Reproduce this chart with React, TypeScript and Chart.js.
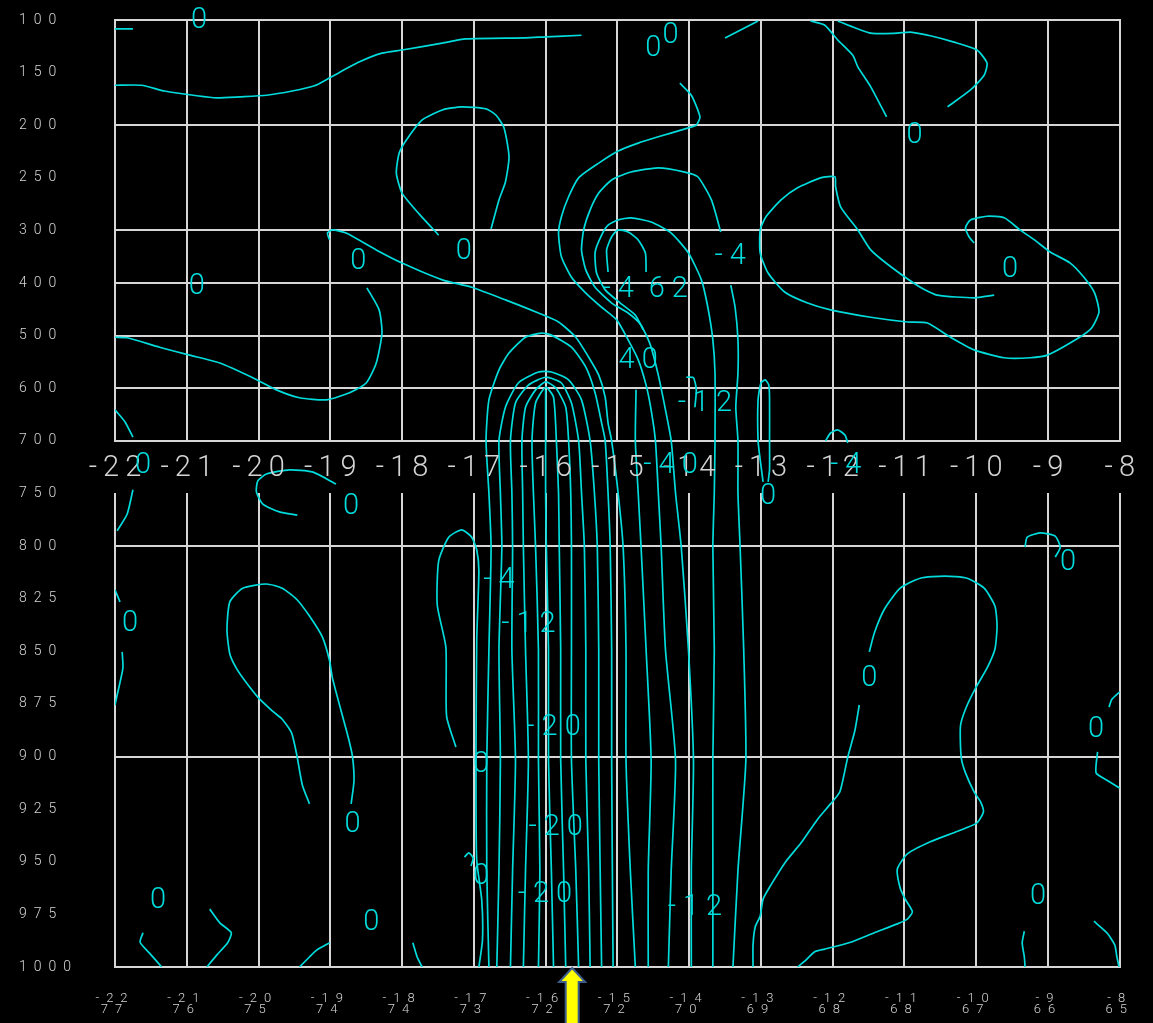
import React, { useEffect, useRef } from "react";
import { Chart, registerables } from "chart.js";

Chart.register(...registerables);

type Pt = [number, number];

// ---------- axes ----------
const LEVEL_LABELS = ["100", "150", "200", "250", "300", "400", "500", "600", "700", "750", "800", "825", "850", "875", "900", "925", "950", "975", "1000"];
const LON_TICKS = [-22, -21, -20, -19, -18, -17, -16, -15, -14, -13, -12, -11, -10, -9, -8];
const LAT_TICKS = [77, 76, 75, 74, 74, 73, 72, 72, 70, 69, 68, 68, 67, 66, 65];
const UPPER_GRID_LEVELS = [0, 2, 4, 5, 6, 7, 8];
const LOWER_GRID_LEVELS = [10, 14, 18];
const UPPER_PANEL = [0, 8];
const LOWER_PANEL = [9, 18];
const MID_LABEL_LEVEL = 8.47;
const ARROW_LON = -15.63;

// ---------- central vertical contour legs (below 700 hPa) ----------
const LEG_LEVELS = [8.99, 10.02, 11.97, 14.07, 16.16, 18.0];
const LEG_A = [-16.79, -16.76, -16.79, -16.82, -16.82, -16.79];
const LEG_B = [-16.63, -16.61, -16.65, -16.63, -16.65, -16.68];
const LEG_C = [-16.47, -16.46, -16.47, -16.42, -16.46, -16.49];
const LEG_D = [-16.32, -16.31, -16.28, -16.24, -16.28, -16.31];
const LEG_E = [-16.17, -16.14, -16.10, -16.10, -16.08, -16.10];
const LEG_MID = [-16.0, -15.99, -15.96, -15.96, -15.92, -15.89];
const LEG_F = [-15.82, -15.81, -15.79, -15.79, -15.75, -15.72];
const LEG_G = [-15.65, -15.64, -15.64, -15.64, -15.58, -15.54];
const LEG_H = [-15.50, -15.46, -15.44, -15.44, -15.40, -15.38];
const LEG_I = [-15.32, -15.28, -15.26, -15.26, -15.24, -15.22];
const LEG_J = [-15.13, -15.10, -15.08, -15.08, -15.07, -15.06];
const LEG_K = [-14.99, -14.92, -14.88, -14.88, -14.82, -14.75];
const LEG_L = [-14.71, -14.67, -14.60, -14.53, -14.57, -14.57];
const LEG_M = [-14.43, -14.39, -14.33, -14.19, -14.25, -14.29];
const LEG_N = [-14.19, -14.11, -14.01, -13.94, -13.97, -13.97];
const LEG_O = [-13.65, -13.67, -13.65, -13.67, -13.67, -13.67];
const LEG_P = [-13.32, -13.29, -13.24, -13.21, -13.32, -13.39];

// ---------- arch tops (upper panel) ----------
const ARCH_1: Pt[] = [[-16.83, 8.0], [-16.79, 7.22], [-16.65, 6.65], [-16.51, 6.33], [-16.28, 6.03], [-16.06, 5.95], [-15.92, 5.99], [-15.64, 6.22], [-15.44, 6.60], [-15.31, 7.09], [-15.22, 7.66], [-15.17, 8.0]];
const ARCH_2: Pt[] = [[-16.65, 8.0], [-16.56, 7.36], [-16.38, 6.90], [-16.10, 6.69], [-15.92, 6.69], [-15.68, 6.84], [-15.50, 7.22], [-15.38, 8.0]];
const ARCH_3: Pt[] = [[-16.49, 8.0], [-16.42, 7.28], [-16.24, 6.94], [-16.0, 6.79], [-15.78, 6.90], [-15.64, 7.28], [-15.54, 8.0]];
const ARCH_4: Pt[] = [[-16.33, 8.0], [-16.28, 7.36], [-16.14, 7.03], [-16.0, 6.88], [-15.86, 6.99], [-15.72, 7.36], [-15.68, 8.0]];
const ARCH_5: Pt[] = [[-16.19, 8.0], [-16.14, 7.28], [-16.0, 6.98], [-15.89, 7.17], [-15.85, 8.0]];
const MID_TOP: Pt[] = [[-16.0, 7.03], [-16.0, 8.0]];
const K_TOP: Pt[] = [[-19.01, 4.18], [-19.04, 4.05], [-18.97, 3.99], [-18.78, 4.05], [-18.36, 4.37], [-18.0, 4.62], [-17.44, 4.94], [-17.03, 5.08], [-16.56, 5.32], [-16.10, 5.57], [-15.82, 5.74], [-15.58, 6.03], [-15.40, 6.41], [-15.26, 6.75], [-15.17, 7.17], [-15.13, 7.66], [-15.08, 8.0]];
const L_TOP: Pt[] = [[-14.74, 7.03], [-14.75, 8.0]];
const M_TOP: Pt[] = [[-14.13, 1.20], [-13.97, 1.43], [-13.85, 1.84], [-13.90, 2.0], [-14.01, 2.05], [-14.43, 2.22], [-14.71, 2.34], [-14.99, 2.49], [-15.26, 2.72], [-15.54, 3.0], [-15.68, 3.36], [-15.78, 3.74], [-15.82, 4.05], [-15.78, 4.50], [-15.64, 4.89], [-15.44, 5.19], [-15.22, 5.46], [-15.01, 5.70], [-14.85, 6.08], [-14.71, 6.46], [-14.60, 6.94], [-14.53, 7.41], [-14.47, 8.0]];
const N_TOP: Pt[] = [[-13.56, 4.03], [-13.69, 3.42], [-13.88, 2.98], [-14.06, 2.89], [-14.43, 2.81], [-14.81, 2.89], [-15.08, 3.04], [-15.26, 3.29], [-15.38, 3.61], [-15.47, 3.99], [-15.50, 4.37], [-15.44, 4.75], [-15.31, 5.08], [-15.08, 5.38], [-14.85, 5.57], [-14.67, 5.80], [-14.54, 6.18], [-14.43, 6.75], [-14.33, 7.41], [-14.25, 8.0]];
const O_TOP: Pt[] = [[-14.64, 5.89], [-14.75, 5.61], [-14.96, 5.38], [-15.17, 5.13], [-15.29, 4.81], [-15.31, 4.41], [-15.22, 4.09], [-15.13, 3.90], [-14.99, 3.80], [-14.81, 3.76], [-14.53, 3.84], [-14.25, 4.05], [-14.01, 4.43], [-13.83, 4.94], [-13.74, 5.46], [-13.67, 6.08], [-13.64, 6.71], [-13.64, 8.0]];
const P_TOP: Pt[] = [[-13.42, 5.04], [-13.36, 5.46], [-13.32, 6.08], [-13.32, 6.71], [-13.35, 7.36], [-13.32, 8.0]];

// ---------- other contours ----------
const C_TOP_STUB: Pt[] = [[-22, 0.17], [-21.75, 0.17]];
const C_TOP_LONG: Pt[] = [[-22, 1.24], [-21.63, 1.24], [-21.31, 1.35], [-20.86, 1.44], [-20.58, 1.48], [-20.26, 1.46], [-19.89, 1.43], [-19.53, 1.35], [-19.22, 1.25], [-19.01, 1.10], [-18.60, 0.80], [-18.28, 0.63], [-18.0, 0.57], [-17.44, 0.44], [-17.11, 0.36], [-16.28, 0.34], [-16.0, 0.32], [-15.5, 0.29]];
const C_LOOP_250: Pt[] = [[-17.49, 4.09], [-17.76, 3.69], [-18.0, 3.29], [-18.08, 2.91], [-18.04, 2.53], [-17.94, 2.28], [-17.72, 1.90], [-17.44, 1.71], [-17.17, 1.65], [-16.83, 1.69], [-16.69, 1.81], [-16.58, 2.05], [-16.51, 2.60], [-16.56, 3.08], [-16.65, 3.42], [-16.76, 3.97]];
const C_LEFT_500: Pt[] = [[-22, 6.03], [-21.83, 6.04], [-21.38, 6.22], [-20.96, 6.37], [-20.54, 6.52], [-20.08, 6.80], [-19.75, 7.03], [-19.43, 7.18], [-19.06, 7.22], [-18.74, 7.09], [-18.5, 6.90], [-18.36, 6.52], [-18.28, 5.95], [-18.32, 5.51], [-18.49, 5.09]];
const C_LEFT_650: Pt[] = [[-22, 7.41], [-21.86, 7.64], [-21.75, 7.93]];
const C_TOP_MID: Pt[] = [[-13.5, 0.34], [-13.04, 0.02]];
const C_TOP_DIAG: Pt[] = [[-12.31, 0.02], [-12.11, 0.10], [-11.93, 0.38], [-11.72, 0.67], [-11.65, 0.89], [-11.47, 1.27], [-11.25, 1.84]];
const C_TOP_RIGHT: Pt[] = [[-11.93, 0.02], [-11.47, 0.25], [-11.10, 0.25], [-10.92, 0.23], [-10.64, 0.30], [-10.31, 0.42], [-9.99, 0.57], [-9.85, 0.82], [-9.89, 1.05], [-10.08, 1.33], [-10.40, 1.65]];
const C_RIGHT_LOOP: Pt[] = [[-9.75, 5.23], [-10.03, 5.28], [-10.54, 5.23], [-10.78, 5.08], [-11.19, 4.69], [-11.47, 4.37], [-11.65, 3.99], [-11.89, 3.55], [-11.96, 3.17], [-11.97, 2.98], [-12.17, 3.0], [-12.49, 3.19], [-12.72, 3.42], [-12.93, 3.74], [-13.01, 3.99], [-13.01, 4.43], [-12.90, 4.81], [-12.67, 5.17], [-12.35, 5.38], [-12.03, 5.51], [-11.47, 5.65], [-10.96, 5.74], [-10.68, 5.76], [-10.36, 6.03], [-10.03, 6.27], [-9.61, 6.42], [-9.25, 6.42], [-9.01, 6.37], [-8.56, 6.03], [-8.39, 5.85], [-8.29, 5.55], [-8.35, 5.19], [-8.5, 4.89], [-8.69, 4.62], [-8.97, 4.41], [-9.19, 4.18], [-9.39, 3.99], [-9.61, 3.76], [-9.85, 3.73], [-10.08, 3.80], [-10.15, 3.95], [-10.10, 4.12], [-10.03, 4.24]];
const C_INNER_LOOP: Pt[] = [[-15.13, 4.79], [-15.15, 4.37], [-15.08, 4.12], [-14.99, 3.99], [-14.85, 4.03], [-14.71, 4.18], [-14.61, 4.43], [-14.60, 4.79]];
const C_HOOK_600: Pt[] = [[-14.04, 6.79], [-13.94, 6.80], [-13.90, 7.03], [-13.92, 7.36]];
const C_NARROW: Pt[] = [[-12.97, 8.78], [-13.01, 8.36], [-13.04, 8.0], [-13.04, 7.22], [-13.0, 6.90], [-12.94, 6.84], [-12.89, 6.94], [-12.88, 7.22], [-12.88, 8.0], [-12.88, 8.55], [-12.90, 8.78]];
const C_SMALL_700: Pt[] = [[-12.10, 8.0], [-12.03, 7.85], [-11.93, 7.79], [-11.83, 7.89], [-11.79, 8.04]];
const C_SMALL_800: Pt[] = [[-9.32, 10.02], [-9.29, 9.83], [-9.11, 9.75], [-8.90, 9.81], [-8.83, 10.02], [-8.90, 10.21]];
const C_LOW_RIGHT: Pt[] = [[-11.49, 12.01], [-11.42, 11.65], [-11.28, 11.20], [-11.06, 10.80], [-10.78, 10.61], [-10.44, 10.57], [-10.13, 10.61], [-9.89, 10.80], [-9.74, 11.14], [-9.71, 11.52], [-9.74, 11.96], [-9.85, 12.32], [-10.01, 12.70], [-10.15, 13.10], [-10.22, 13.42], [-10.21, 14.01], [-10.15, 14.31], [-10.03, 14.67], [-9.94, 14.86], [-9.90, 15.05], [-9.99, 15.26], [-10.26, 15.42], [-10.64, 15.62], [-10.96, 15.85], [-11.10, 16.14], [-11.06, 16.50], [-10.99, 16.71], [-10.89, 16.95], [-10.96, 17.09], [-11.10, 17.18], [-11.42, 17.35], [-11.75, 17.53], [-12.11, 17.66], [-12.25, 17.71], [-12.39, 17.89], [-12.49, 18.0]];
const C_LOW_DIAG: Pt[] = [[-11.63, 13.02], [-11.69, 13.50], [-11.79, 14.01], [-11.90, 14.67], [-12.03, 14.90], [-12.21, 15.19], [-12.44, 15.64], [-12.65, 15.99], [-12.86, 16.44], [-12.97, 16.71], [-13.01, 17.03], [-13.08, 17.24], [-13.11, 17.58], [-13.11, 18.0]];
const C_EDGE_875: Pt[] = [[-8.15, 13.06], [-8.11, 12.91], [-8.0, 12.77]];
const C_EDGE_910: Pt[] = [[-8.31, 13.91], [-8.33, 14.31], [-8.18, 14.45], [-8.0, 14.60]];
const C_EDGE_990: Pt[] = [[-8.36, 17.13], [-8.18, 17.35], [-8.07, 17.58], [-8.04, 17.81], [-8.01, 18.0]];
const C_STUB_990: Pt[] = [[-9.33, 17.32], [-9.36, 17.54], [-9.33, 17.81], [-9.32, 18.0]];
const C_HOOK_750: Pt[] = [[-19.46, 9.41], [-19.71, 9.35], [-19.94, 9.20], [-20.03, 8.97], [-20.01, 8.76], [-19.89, 8.63], [-19.57, 8.55], [-19.25, 8.59], [-18.92, 8.82]];
const C_EDGE_760: Pt[] = [[-21.75, 8.93], [-21.83, 9.39], [-21.97, 9.71]];
const C_EDGE_830: Pt[] = [[-22, 10.83], [-21.93, 11.06]];
const C_EDGE_860: Pt[] = [[-21.90, 12.01], [-21.89, 12.32], [-21.97, 12.83], [-22, 13.02]];
const C_LEFT_LOOP: Pt[] = [[-19.29, 14.90], [-19.39, 14.54], [-19.47, 13.95], [-19.54, 13.55], [-19.67, 13.29], [-19.81, 13.13], [-20.01, 12.87], [-20.19, 12.56], [-20.31, 12.32], [-20.40, 12.05], [-20.44, 11.59], [-20.40, 11.06], [-20.22, 10.80], [-19.89, 10.72], [-19.67, 10.80], [-19.47, 11.01], [-19.29, 11.33], [-19.11, 11.73], [-19.01, 12.18], [-18.97, 12.51], [-18.83, 13.23], [-18.74, 13.69], [-18.69, 14.01], [-18.67, 14.46], [-18.71, 14.90]];
const C_BOT_1: Pt[] = [[-21.61, 17.35], [-21.65, 17.53], [-21.51, 17.75], [-21.35, 18.0]];
const C_BOT_2: Pt[] = [[-20.68, 16.90], [-20.54, 17.16], [-20.38, 17.35], [-20.43, 17.54], [-20.58, 17.77], [-20.72, 18.0]];
const C_BOT_3: Pt[] = [[-19.01, 17.54], [-19.19, 17.68], [-19.29, 17.81], [-19.43, 18.0]];
const C_BOT_4: Pt[] = [[-17.85, 17.54], [-17.79, 17.81], [-17.72, 18.0]];
const C_ZERO_LEFT: Pt[] = [[-17.25, 13.82], [-17.38, 13.23], [-17.39, 11.92], [-17.51, 11.12], [-17.49, 10.28], [-17.35, 9.83], [-17.17, 9.69], [-17.03, 9.83], [-16.96, 10.07], [-16.93, 10.47], [-16.96, 11.78], [-16.97, 13.88], [-16.97, 14.83], [-16.96, 15.97], [-16.89, 16.73], [-16.88, 17.49], [-16.93, 18.0]];
const C_HOOK_950: Pt[] = [[-17.13, 15.91], [-17.07, 15.83], [-17.01, 15.93], [-17.04, 16.08]];

// contour value labels: [text, lon, level index]
const CONTOUR_LABELS: [string, number, number][] = [
  ["0", -20.83, -0.04], ["0", -20.86, 5.02], ["0", -18.61, 4.54], ["0", -17.14, 4.35],
  ["0", -14.5, 0.49], ["0", -14.26, 0.25], ["0", -10.86, 2.15], ["0", -9.53, 4.68],
  ["-4", -13.43, 4.45], ["-4", -14.99, 5.06], ["62", -14.29, 5.06], ["40", -14.71, 6.41],
  ["-12", -13.78, 7.24], ["0", -21.61, 8.42], ["-4", -11.82, 8.42], ["-40", -14.26, 8.42],
  ["0", -12.90, 9.01], ["-4", -16.65, 10.61], ["-12", -16.24, 11.44], ["-20", -15.89, 13.4],
  ["-20", -15.86, 15.30], ["-20", -16.01, 16.57], ["0", -16.90, 14.10], ["0", -16.90, 16.23],
  ["-12", -13.92, 16.82], ["0", -21.79, 11.42], ["0", -18.71, 9.20], ["0", -18.69, 15.23],
  ["0", -21.40, 16.69], ["0", -18.43, 17.11], ["0", -11.49, 12.47], ["0", -8.72, 10.26],
  ["0", -8.33, 13.44], ["0", -9.14, 16.61],
];

const CYAN = "#00dcdc";
const GRID = "#d6d6d6";
const TEXT = "#d4d4d4";
const LABEL_FONT_SIZE = 29;

const legPts = (xs: number[]): Pt[] => xs.map((x, i) => [x, LEG_LEVELS[i]] as Pt);
const arch = (left: number[], top: Pt[], right: number[]): Pt[] => [...legPts(left).reverse(), ...top, ...legPts(right)];
const down = (top: Pt[], leg: number[]): Pt[] => [...top, ...legPts(leg)];

const CONTOURS: Pt[][] = [
  arch(LEG_A, ARCH_1, LEG_J),
  arch(LEG_B, ARCH_2, LEG_I),
  arch(LEG_C, ARCH_3, LEG_H),
  arch(LEG_D, ARCH_4, LEG_G),
  arch(LEG_E, ARCH_5, LEG_F),
  down(MID_TOP, LEG_MID),
  down(K_TOP, LEG_K),
  down(L_TOP, LEG_L),
  down(M_TOP, LEG_M),
  down(N_TOP, LEG_N),
  down(O_TOP, LEG_O),
  down(P_TOP, LEG_P),
  C_TOP_STUB, C_TOP_LONG, C_LOOP_250, C_LEFT_500, C_LEFT_650, C_TOP_MID, C_TOP_DIAG, C_TOP_RIGHT,
  C_RIGHT_LOOP, C_INNER_LOOP, C_HOOK_600, C_NARROW, C_SMALL_700, C_SMALL_800,
  C_LOW_RIGHT, C_LOW_DIAG, C_EDGE_875, C_EDGE_910, C_EDGE_990, C_STUB_990,
  C_HOOK_750, C_EDGE_760, C_EDGE_830, C_EDGE_860, C_LEFT_LOOP,
  C_BOT_1, C_BOT_2, C_BOT_3, C_BOT_4, C_ZERO_LEFT, C_HOOK_950,
];

function drawLabel(ctx: CanvasRenderingContext2D, text: string, px: number, py: number, spacing: number) {
  (ctx as any).letterSpacing = `${spacing}px`;
  ctx.textAlign = "center";
  ctx.textBaseline = "alphabetic";
  ctx.fillText(text, px + spacing / 2, py + LABEL_FONT_SIZE * 0.355);
}

const crossSectionPlugin = {
  id: "crossSection",
  beforeDraw(chart: any) {
    const ctx: CanvasRenderingContext2D = chart.ctx;
    ctx.save();
    ctx.fillStyle = "#000";
    ctx.fillRect(0, 0, chart.width, chart.height);
    ctx.restore();
    (ctx as any).letterSpacing = "7px";
  },
  beforeDatasetsDraw(chart: any) {
    const ctx: CanvasRenderingContext2D = chart.ctx;
    const x = chart.scales.x;
    const y = chart.scales.y;
    ctx.save();
    ctx.strokeStyle = GRID;
    ctx.lineWidth = 2;
    ctx.lineCap = "square";
    const xl = Math.round(x.getPixelForValue(LON_TICKS[0]));
    const xr = Math.round(x.getPixelForValue(LON_TICKS[LON_TICKS.length - 1]));
    ctx.beginPath();
    for (const lv of [...UPPER_GRID_LEVELS, ...LOWER_GRID_LEVELS]) {
      const py = Math.round(y.getPixelForValue(lv));
      ctx.moveTo(xl, py);
      ctx.lineTo(xr, py);
    }
    for (const lon of LON_TICKS) {
      const px = Math.round(x.getPixelForValue(lon));
      ctx.moveTo(px, Math.round(y.getPixelForValue(UPPER_PANEL[0])));
      ctx.lineTo(px, Math.round(y.getPixelForValue(UPPER_PANEL[1])));
      ctx.moveTo(px, Math.round(y.getPixelForValue(LOWER_PANEL[0])));
      ctx.lineTo(px, Math.round(y.getPixelForValue(LOWER_PANEL[1])));
    }
    ctx.stroke();
    ctx.restore();
  },
  afterDatasetsDraw(chart: any) {
    const ctx: CanvasRenderingContext2D = chart.ctx;
    const x = chart.scales.x;
    const y = chart.scales.y;
    ctx.save();
    ctx.font = `300 ${LABEL_FONT_SIZE}px Roboto, "DejaVu Sans", sans-serif`;
    ctx.fillStyle = TEXT;
    const midY = y.getPixelForValue(MID_LABEL_LEVEL);
    for (const lon of LON_TICKS) {
      drawLabel(ctx, String(lon), x.getPixelForValue(lon), midY, 6);
    }
    ctx.fillStyle = CYAN;
    for (const [t, lon, lv] of CONTOUR_LABELS) {
      drawLabel(ctx, t, x.getPixelForValue(lon), y.getPixelForValue(lv), 7);
    }
    ctx.restore();
  },
  afterDraw(chart: any) {
    const ctx: CanvasRenderingContext2D = chart.ctx;
    const x = chart.scales.x;
    const ax = x.getPixelForValue(ARROW_LON);
    const top = chart.chartArea.bottom + 1;
    const bottom = chart.height + 2;
    ctx.save();
    ctx.beginPath();
    ctx.moveTo(ax, top);
    ctx.lineTo(ax + 13, top + 14);
    ctx.lineTo(ax + 6.5, top + 14);
    ctx.lineTo(ax + 6.5, bottom);
    ctx.lineTo(ax - 6.5, bottom);
    ctx.lineTo(ax - 6.5, top + 14);
    ctx.lineTo(ax - 13, top + 14);
    ctx.closePath();
    ctx.fillStyle = "#ffff00";
    ctx.fill();
    ctx.strokeStyle = "#3d5d8f";
    ctx.lineWidth = 2;
    ctx.stroke();
    ctx.restore();
  },
};

export default function App() {
  const canvasRef = useRef<HTMLCanvasElement | null>(null);

  useEffect(() => {
    document.body.style.margin = "0";
    document.body.style.background = "#000";
    const canvas = canvasRef.current;
    if (!canvas) return;
    const chart = new Chart(canvas, {
      type: "scatter",
      data: {
        datasets: CONTOURS.map((pts) => ({
          data: pts.map(([px, py]) => ({ x: px, y: py })),
          showLine: true,
          borderColor: CYAN,
          backgroundColor: CYAN,
          borderWidth: 1.7,
          pointRadius: 0,
          pointHoverRadius: 0,
          tension: 0.2,
          fill: false,
        })),
      },
      options: {
        responsive: false,
        devicePixelRatio: 1,
        animation: false,
        events: [],
        layout: { padding: { left: 19, top: 20, right: 30, bottom: 0 } },
        plugins: { legend: { display: false }, tooltip: { enabled: false } },
        scales: {
          x: {
            type: "linear",
            position: "bottom",
            min: -22,
            max: -8,
            afterFit: (s: any) => {
              s.height = 56;
            },
            grid: { display: false, drawTicks: false },
            border: { display: false },
            ticks: {
              stepSize: 1,
              autoSkip: false,
              maxRotation: 0,
              minRotation: 0,
              padding: 26,
              color: TEXT,
              font: { family: "Roboto", size: 13, weight: "300", lineHeight: 0.85 },
              callback: (v: any) => {
                const i = LON_TICKS.indexOf(Number(v));
                return i < 0 ? "" : [String(LON_TICKS[i]), String(LAT_TICKS[i])];
              },
            },
          },
          y: {
            type: "linear",
            position: "left",
            reverse: true,
            min: 0,
            max: 18,
            afterFit: (s: any) => {
              s.width = 96;
            },
            grid: { display: false, drawTicks: false },
            border: { display: false },
            ticks: {
              stepSize: 1,
              autoSkip: false,
              maxTicksLimit: 100,
              crossAlign: "far",
              padding: 0,
              color: TEXT,
              font: { family: "Roboto", size: 14, weight: "300" },
              callback: (v: any) => LEVEL_LABELS[Number(v)] ?? "",
            },
          },
        },
      },
      plugins: [crossSectionPlugin],
    } as any);
    return () => chart.destroy();
  }, []);

  return (
    <div style={{ width: 1153, height: 1023, background: "#000" }}>
      <canvas ref={canvasRef} width={1153} height={1023} style={{ display: "block" }} />
    </div>
  );
}
